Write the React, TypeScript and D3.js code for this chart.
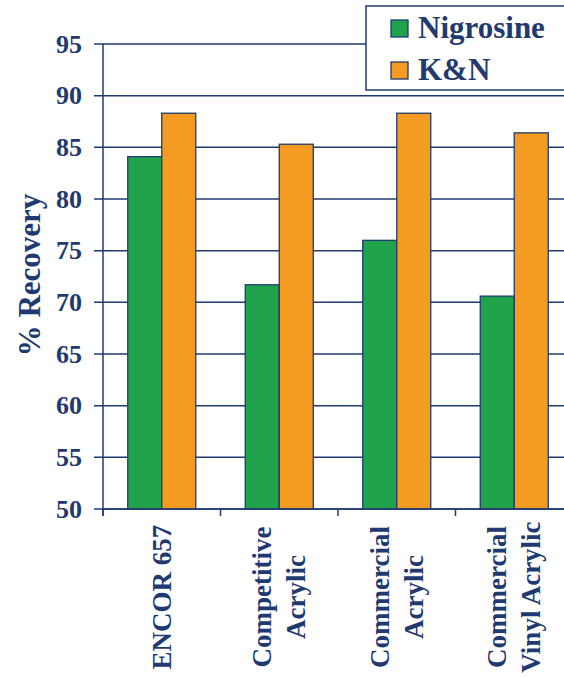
import React from "react";
import * as d3 from "d3";

const categories = [
  ["ENCOR 657"],
  ["Competitive", "Acrylic"],
  ["Commercial", "Acrylic"],
  ["Commercial", "Vinyl Acrylic"],
];
const seriesNames = ["Nigrosine", "K&N"];
const nigrosine = [84.1, 71.7, 76.0, 70.6];
const kn = [88.3, 85.3, 88.3, 86.4];
const yTicks = [50, 55, 60, 65, 70, 75, 80, 85, 90, 95];

const NAVY = "#1f3a70";
const GREEN = "#21a34b";
const ORANGE = "#f39c21";
const FONT = "Liberation Serif";

export default function App() {
  const W = 564, H = 677;
  const left = 103, right = 573, top = 44, bottom = 509;
  const x = d3.scaleBand<number>().domain(d3.range(categories.length)).range([left, right]).paddingInner(0).paddingOuter(0);
  const y = d3.scaleLinear().domain([50, 95]).range([bottom, top]);
  const series = [nigrosine, kn];
  const colors = [GREEN, ORANGE];
  const bw = x.bandwidth();
  const barW = 34;
  const pad = (bw - 2 * barW) / 2;
  const ts = { fontFamily: FONT, fontWeight: 700 } as React.CSSProperties;

  return (
    <svg width={W} height={H} style={{ position: "absolute", left: 0, top: 0, background: "#fff" }}>
      {yTicks.map((t) => (
        <g key={t}>
          <line x1={left - 9} x2={right} y1={y(t)} y2={y(t)} stroke={NAVY} strokeWidth={1.5} />
          <text x={82} y={y(t)} textAnchor="end" dominantBaseline="central" fontSize={26} style={ts} fill={NAVY}>
            {t}
          </text>
        </g>
      ))}
      {categories.map((_, i) =>
        series.map((s, j) => (
          <rect
            key={`${i}-${j}`}
            x={(x(i) as number) + pad + j * barW}
            y={y(s[i])}
            width={barW}
            height={y(50) - y(s[i])}
            fill={colors[j]}
            stroke={NAVY}
            strokeWidth={1.3}
          />
        ))
      )}
      <line x1={left} x2={left} y1={top} y2={bottom + 7} stroke={NAVY} strokeWidth={1.5} />
      <line x1={left} x2={right} y1={bottom} y2={bottom} stroke={NAVY} strokeWidth={1.5} />
      {categories.map((_, i) => (
        <line key={i} x1={x(i) as number} x2={x(i) as number} y1={bottom} y2={bottom + 7} stroke={NAVY} strokeWidth={1.5} />
      ))}
      {categories.map((lines, i) => {
        const cx = (x(i) as number) + bw / 2;
        return lines.map((ln, k) => {
          const off = (k - (lines.length - 1) / 2) * 34;
          const tx = cx + off;
          const ty = 597;
          return (
            <text
              key={`${i}-${k}`}
              x={tx}
              y={ty}
              transform={`rotate(-90 ${tx} ${ty})`}
              textAnchor="middle"
              dominantBaseline="central"
              fontSize={27}
              style={ts}
              fill={NAVY}
            >
              {ln}
            </text>
          );
        });
      })}
      <text
        x={29}
        y={275}
        transform="rotate(-90 29 275)"
        textAnchor="middle"
        dominantBaseline="central"
        fontSize={31}
        style={ts}
        fill={NAVY}
      >
        % Recovery
      </text>
      <rect x={366} y={6} width={210} height={84} fill="#fff" stroke={NAVY} strokeWidth={1.5} />
      {seriesNames.map((n, j) => (
        <g key={n}>
          <rect x={391} y={20 + j * 42} width={17} height={17} fill={colors[j]} stroke={NAVY} strokeWidth={1.3} />
          <text x={418} y={38 + j * 42} fontSize={31} style={ts} fill={NAVY}>
            {n}
          </text>
        </g>
      ))}
    </svg>
  );
}
